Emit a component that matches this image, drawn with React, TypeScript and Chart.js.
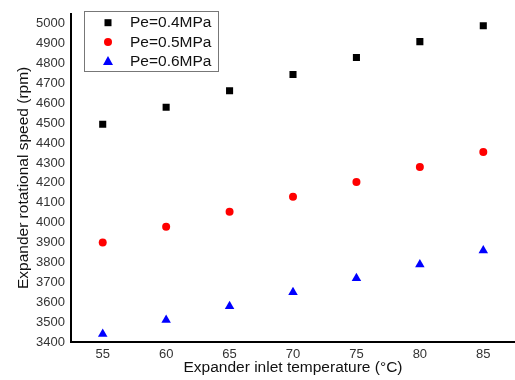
import React, { useEffect, useRef } from "react";
import { Chart, registerables } from "chart.js";

Chart.register(...registerables);

const temperatures = ["55", "60", "65", "70", "75", "80", "85"];
const pe04 = [4495, 4580, 4663, 4745, 4830, 4910, 4990];
const pe05 = [3900, 3980, 4055, 4130, 4205, 4280, 4355];
const pe06 = [3440, 3510, 3580, 3650, 3720, 3790, 3860];
const seriesLabels = ["Pe=0.4MPa", "Pe=0.5MPa", "Pe=0.6MPa"];
const yMin = 3400;
const yMax = 5050;
const yTickMax = 5000;
const yStep = 100;

const FONT = "'Liberation Sans', Arial, sans-serif";

const legendPlugin = {
  id: "boxLegend",
  afterDraw(chart: any) {
    const ctx = chart.ctx;
    const x0 = 84, y0 = 11, w = 134, h = 60;
    ctx.save();
    ctx.fillStyle = "#fff";
    ctx.fillRect(x0, y0, w, h);
    ctx.strokeStyle = "#777";
    ctx.lineWidth = 1;
    ctx.strokeRect(x0 + 0.5, y0 + 0.5, w, h);
    const rowY = [22.7, 42, 61];
    chart.data.datasets.forEach((ds: any, i: number) => {
      const cy = rowY[i];
      ctx.fillStyle = ds.backgroundColor;
      const mx = 108;
      if (ds.pointStyle === "rect") {
        ctx.fillRect(mx - 3.5, cy - 3.5, 7, 7);
      } else if (ds.pointStyle === "circle") {
        ctx.beginPath();
        ctx.arc(mx, cy, 4, 0, Math.PI * 2);
        ctx.fill();
      } else {
        ctx.beginPath();
        ctx.moveTo(mx, cy - 5);
        ctx.lineTo(mx + 5, cy + 4);
        ctx.lineTo(mx - 5, cy + 4);
        ctx.closePath();
        ctx.fill();
      }
      ctx.fillStyle = "#111";
      ctx.font = `15.5px ${FONT}`;
      ctx.textBaseline = "middle";
      ctx.textAlign = "left";
      ctx.fillText(ds.label, 130, cy + 0.5);
    });
    ctx.restore();
  },
};

export default function App() {
  const ref = useRef<HTMLCanvasElement | null>(null);
  useEffect(() => {
    document.body.style.margin = "0";
    const canvas = ref.current!;
    const chart = new Chart(canvas, {
      type: "line",
      data: {
        labels: temperatures,
        datasets: [
          {
            label: seriesLabels[0],
            data: pe04,
            showLine: false,
            pointStyle: "rect",
            pointRadius: 5,
            backgroundColor: "#000000",
            borderColor: "#000000",
            borderWidth: 0,
          },
          {
            label: seriesLabels[1],
            data: pe05,
            showLine: false,
            pointStyle: "circle",
            pointRadius: 4,
            backgroundColor: "#ff0000",
            borderColor: "#ff0000",
            borderWidth: 0,
          },
          {
            label: seriesLabels[2],
            data: pe06,
            showLine: false,
            pointStyle: "triangle",
            pointRadius: 5.5,
            backgroundColor: "#0000ff",
            borderColor: "#0000ff",
            borderWidth: 0,
          },
        ],
      },
      options: {
        animation: false,
        responsive: false,
        maintainAspectRatio: false,
        layout: { autoPadding: false, padding: { top: 12, right: 0, left: 0, bottom: 0 } },
        plugins: {
          legend: { display: false },
          tooltip: { enabled: false },
        },
        scales: {
          x: {
            type: "category",
            offset: true,
            grid: { display: false, drawTicks: false },
            border: { display: true, color: "#000", width: 2 },
            ticks: {
              color: "#333",
              font: { family: FONT, size: 13 },
              padding: 5,
            },
            title: {
              display: true,
              text: "Expander inlet temperature (°C)",
              color: "#111",
              font: { family: FONT, size: 15.5 },
              padding: { top: 0, bottom: 3 },
            },
            afterFit(scale: any) {
              scale.height = 38;
            },
          },
          y: {
            type: "linear",
            min: yMin,
            max: yMax,
            grid: { display: false, drawTicks: false },
            border: { display: true, color: "#000", width: 2 },
            ticks: {
              stepSize: yStep,
              color: "#333",
              font: { family: FONT, size: 13 },
              padding: 6,
              callback: (v: any) => String(v),
            },
            afterBuildTicks(scale: any) {
              const ticks = [];
              for (let v = yMin; v <= yTickMax; v += yStep) ticks.push({ value: v });
              scale.ticks = ticks;
            },
            title: {
              display: true,
              text: "Expander rotational speed (rpm)",
              color: "#111",
              font: { family: FONT, size: 15.5 },
              padding: { top: 14, bottom: 0 },
            },
            afterFit(scale: any) {
              scale.width = 71;
            },
          },
        },
      },
      plugins: [legendPlugin],
    } as any);
    return () => chart.destroy();
  }, []);
  return (
    <div style={{ width: 515, height: 380 }}>
      <canvas ref={ref} width={515} height={380} style={{ display: "block" }} />
    </div>
  );
}
